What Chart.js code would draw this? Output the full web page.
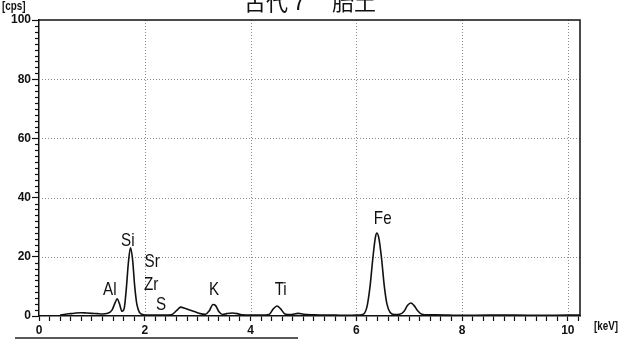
<!DOCTYPE html>
<html>
<head>
<meta charset="utf-8">
<script src="https://cdn.jsdelivr.net/npm/chart.js@4/dist/chart.umd.min.js"></script>
<style>
  html, body { margin: 0; padding: 0; background: #fff; }
  canvas { display: block; }
</style>
</head>
<body>
<canvas id="spectrum" width="624" height="340"></canvas>
<script>
const chartTitle = '古代７　胎土';
const yUnit = '[cps]';
const xUnit = '[keV]';

// energy (keV) and counts (cps)
const energy = [
  0.40, 0.50, 0.60, 0.70, 0.80, 0.90, 1.00, 1.10, 1.20, 1.30,
  1.38, 1.44, 1.48, 1.52, 1.57, 1.61, 1.65, 1.69, 1.73, 1.77,
  1.81, 1.85, 1.90, 1.96, 2.05, 2.20, 2.35, 2.50, 2.60, 2.68,
  2.76, 2.85, 2.95, 3.05, 3.15, 3.22, 3.29, 3.34, 3.40, 3.47,
  3.55, 3.65, 3.75, 3.85, 4.00, 4.20, 4.35, 4.43, 4.50, 4.57,
  4.65, 4.75, 4.90, 5.00, 5.20, 5.40, 5.60, 5.80, 6.00, 6.12,
  6.20, 6.26, 6.31, 6.36, 6.39, 6.43, 6.48, 6.53, 6.58, 6.64,
  6.72, 6.82, 6.90, 6.97, 7.03, 7.09, 7.16, 7.24, 7.35, 7.50,
  8.00, 8.50, 9.00, 9.50, 10.00, 10.23
];
const counts = [
  0.3, 0.6, 0.8, 1.0, 1.1, 1.0, 0.9, 0.8, 0.7, 0.9,
  2.0, 4.5, 5.8, 4.2, 1.6, 2.5, 9.0, 18.0, 23.0, 19.0,
  10.0, 4.0, 1.2, 0.5, 0.3, 0.3, 0.3, 0.4, 1.8, 3.0,
  2.6, 2.0, 1.4, 0.8, 0.6, 1.8, 3.9, 3.5, 1.5, 0.5,
  0.8, 1.0, 0.8, 0.4, 0.3, 0.3, 0.5, 2.4, 3.4, 2.4,
  0.7, 0.5, 0.9, 0.6, 0.4, 0.3, 0.3, 0.2, 0.3, 0.5,
  3.0, 10.0, 19.0, 26.5, 28.0, 26.0, 19.0, 10.0, 4.0, 1.2,
  0.5, 0.6, 1.5, 3.6, 4.4, 3.6, 1.8, 0.6, 0.4, 0.4,
  0.2, 0.3, 0.3, 0.2, 0.3, 0.3
];

// element labels, placed in data units (keV, cps)
const peakNames = ['Al', 'Si', 'Sr', 'Zr', 'S', 'K', 'Ti', 'Fe'];
const peakKeV   = [1.34, 1.68, 2.14, 2.12, 2.31, 3.31, 4.57, 6.50];
const peakCps   = [8.8, 25.4, 18.3, 10.5, 3.7, 8.8, 8.8, 32.9];

const xMax = 10.23;
const yMax = 100;

const points = energy.map((e, i) => ({ x: e, y: counts[i] }));

const isMajorX = v => Math.abs(v / 2 - Math.round(v / 2)) < 1e-6;
const isMajorY = v => Math.abs(v / 20 - Math.round(v / 20)) < 1e-6;

const sans = '"Liberation Sans", Arial, sans-serif';
const tickFont = { family: sans, size: 12, weight: 'bold' };

// draw text squeezed horizontally, like the narrow face of the original printout
function narrowText(ctx, text, x, y, squeeze) {
  ctx.save();
  ctx.translate(x, y);
  ctx.scale(squeeze, 1);
  ctx.fillText(text, 0, 0);
  ctx.restore();
}

const decorations = {
  id: 'decorations',
  beforeDraw(chart) {
    const ctx = chart.ctx;
    ctx.save();
    ctx.fillStyle = '#fff';
    ctx.fillRect(0, 0, chart.width, chart.height);
    ctx.restore();
  },
  beforeDatasetsDraw(chart) {
    const { ctx, chartArea: a, scales: { x, y } } = chart;
    ctx.save();
    // dotted grid
    ctx.strokeStyle = '#8a8a8a';
    ctx.lineWidth = 1;
    ctx.setLineDash([1, 2]);
    x.ticks.forEach(t => {
      if (t.value > 0 && isMajorX(t.value)) {
        const px = Math.round(x.getPixelForValue(t.value)) + 0.5;
        ctx.beginPath(); ctx.moveTo(px, a.top); ctx.lineTo(px, a.bottom); ctx.stroke();
      }
    });
    y.ticks.forEach(t => {
      if (t.value > 0 && t.value < yMax && isMajorY(t.value)) {
        const py = Math.round(y.getPixelForValue(t.value)) + 0.5;
        ctx.beginPath(); ctx.moveTo(a.left, py); ctx.lineTo(a.right, py); ctx.stroke();
      }
    });
    ctx.setLineDash([]);
    // minor ticks on the y axis
    ctx.strokeStyle = '#111';
    ctx.lineWidth = 1.2;
    y.ticks.forEach(t => {
      if (!isMajorY(t.value)) {
        const py = Math.round(y.getPixelForValue(t.value)) + 0.5;
        ctx.beginPath(); ctx.moveTo(a.left - 4, py); ctx.lineTo(a.left, py); ctx.stroke();
      }
    });
    // frame: top and right
    ctx.lineWidth = 1.5;
    ctx.beginPath();
    ctx.moveTo(a.left, a.top); ctx.lineTo(a.right, a.top); ctx.lineTo(a.right, a.bottom);
    ctx.stroke();
    ctx.restore();
  },
  afterDraw(chart) {
    const { ctx, scales: { x, y } } = chart;
    ctx.save();
    ctx.fillStyle = '#111';
    // title (cut off at the top of the scan)
    ctx.font = '22px "Noto Sans CJK JP"';
    ctx.textAlign = 'center';
    ctx.textBaseline = 'alphabetic';
    ctx.fillText(chartTitle, 310, 10);
    // unit labels
    ctx.font = 'bold 12px ' + sans;
    ctx.textAlign = 'left';
    ctx.textBaseline = 'middle';
    narrowText(ctx, yUnit, 2, 7, 0.82);
    narrowText(ctx, xUnit, 594, 327, 0.82);
    // element names
    ctx.font = '19px ' + sans;
    ctx.textAlign = 'center';
    peakNames.forEach((n, i) => {
      narrowText(ctx, n, x.getPixelForValue(peakKeV[i]), y.getPixelForValue(peakCps[i]), 0.8);
    });
    // pencil underline from the scanned page
    ctx.strokeStyle = '#222';
    ctx.lineWidth = 1.5;
    ctx.beginPath(); ctx.moveTo(15, 338); ctx.lineTo(298, 338); ctx.stroke();
    ctx.restore();
  }
};

new Chart(document.getElementById('spectrum'), {
  type: 'line',
  data: {
    datasets: [{
      data: points,
      borderColor: '#111',
      borderWidth: 1.6,
      pointRadius: 0,
      cubicInterpolationMode: 'monotone',
      fill: false
    }]
  },
  options: {
    responsive: false,
    animation: false,
    devicePixelRatio: 1,
    layout: { padding: { top: 20, right: 44, left: 0, bottom: 0 } },
    plugins: { legend: { display: false }, tooltip: { enabled: false } },
    scales: {
      x: {
        type: 'linear',
        min: 0,
        max: xMax,
        afterFit: s => { s.height = 24; },
        border: { display: true, color: '#111', width: 1.5 },
        grid: { drawOnChartArea: false, tickLength: 5, tickColor: '#111', tickWidth: 1.2 },
        ticks: {
          stepSize: 0.2,
          includeBounds: false,
          autoSkip: false,
          maxRotation: 0,
          maxTicksLimit: 200,
          padding: 2,
          color: '#111',
          font: tickFont,
          callback: v => isMajorX(v) ? String(Math.round(v)) : ''
        }
      },
      y: {
        min: 0,
        max: yMax,
        afterFit: s => { s.width = 39; },
        border: { display: true, color: '#111', width: 1.5 },
        grid: {
          drawOnChartArea: false,
          tickLength: 7,
          tickWidth: 1.2,
          tickColor: c => isMajorY(c.tick.value) ? '#111' : 'rgba(0,0,0,0)'
        },
        ticks: {
          stepSize: 2,
          autoSkip: false,
          maxTicksLimit: 200,
          padding: 1,
          color: '#111',
          font: tickFont,
          callback: v => isMajorY(v) ? String(Math.round(v)) : ''
        }
      }
    }
  },
  plugins: [decorations]
});
</script>
</body>
</html>
